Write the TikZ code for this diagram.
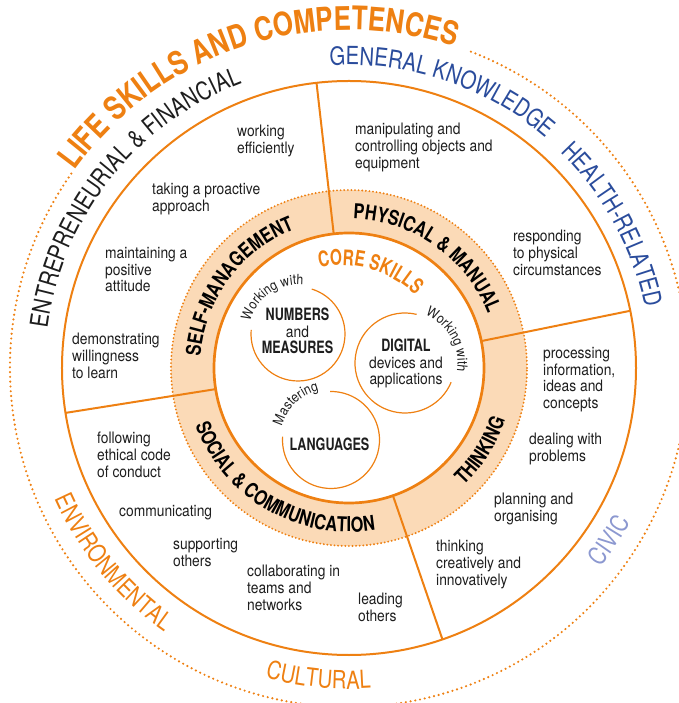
\documentclass[tikz,border=0pt]{standalone}
\usepackage{fontspec}
\setmainfont{TeX Gyre Heros}
\newfontfamily\bodyf{TeX Gyre Heros}[FakeStretch=0.875]
\newfontfamily\bandf{TeX Gyre Heros}[FakeStretch=0.80]
\newfontfamily\innerb{TeX Gyre Heros}[FakeStretch=0.74]
\newfontfamily\coref{TeX Gyre Heros}[FakeStretch=0.72]
\newfontfamily\outerf{TeX Gyre Heros}[FakeStretch=0.81]
\newfontfamily\titlef{TeX Gyre Heros}[FakeStretch=0.80]
\usetikzlibrary{decorations.text}
\definecolor{lsorange}{RGB}{238,128,18}
\definecolor{lsband}{RGB}{251,218,183}
\definecolor{lsblue}{RGB}{42,76,156}
\definecolor{lslav}{RGB}{140,152,208}
\definecolor{lstext}{RGB}{30,30,30}
\newcommand\cwtext[5]{\path[decorate,decoration={text along path,text align=center,#1,text={#5}}] ({#2+#3}:#4) arc[start angle={#2+#3},end angle={#2-#3},radius=#4];}
\newcommand\ccwtext[5]{\path[decorate,decoration={text along path,text align=center,#1,text={#5}}] ({#2-#3}:#4) arc[start angle={#2-#3},end angle={#2+#3},radius=#4];}
\newcommand\bb[1]{{\innerb\bfseries\fontsize{17}{16.5}\selectfont #1}}
\tikzset{
  body/.style={font=\bodyf\fontsize{15.8}{16.7}\selectfont, text=lstext, align=left, anchor=north west, inner sep=0pt},
  innertext/.style={font=\bodyf\fontsize{15.8}{16.5}\selectfont, text=lstext, align=center, anchor=north, inner sep=0pt},
  ringline/.style={draw=lsorange, line width=2pt},
  innerring/.style={draw=lsorange, line width=2.7pt},
  subring/.style={draw=lsorange, line width=1.2pt},
  outerdots/.style={draw=lsorange, line width=2.4pt, line cap=round, dash pattern=on 0pt off 4.8pt},
  banddots/.style={draw=lsorange, line width=2.1pt, line cap=round, dash pattern=on 0pt off 3.6pt}
}
\begin{document}
\begin{tikzpicture}[x=1pt,y=1pt]
\useasboundingbox (-349,-335) rectangle (329,368);
\coordinate (c) at (0,0);
% band
\fill[lsband,even odd rule] (c) circle[radius=178pt] (c) circle[radius=135pt];
% radial dividers
\foreach \a/\n in {96.5/1,11.5/2,-71/3,189/4}{
  \coordinate (r\n a) at (\a:135pt);
  \coordinate (r\n b) at (\a:287pt);
  \draw[ringline] (r\n a) -- (r\n b);
}
\draw[banddots] (c) circle[radius=178pt];
\draw[innerring] (c) circle[radius=135pt];
\draw[ringline] (c) circle[radius=287pt];
\draw[outerdots] (145:339pt) arc[start angle=145,end angle=429,radius=339pt];

% title and outer labels
\cwtext{text color=lsorange}{108}{60}{338pt}{|\titlef\bfseries\fontsize{32.5}{32}\selectfont|LIFE SKILLS AND COMPETENCES}
\cwtext{text color=lstext}{141.6}{40}{304pt}{|\outerf\fontsize{25}{25}\selectfont|ENTREPRENEURIAL {\&} FINANCIAL}
\cwtext{text color=lsblue}{71.5}{30}{303pt}{|\outerf\fontsize{25}{25}\selectfont|GENERAL KNOWLEDGE}
\cwtext{text color=lsblue}{28.5}{25}{302pt}{|\outerf\fontsize{25}{25}\selectfont|HEALTH-RELATED}
\ccwtext{text color=lslav}{-33.5}{15}{321pt}{|\outerf\fontsize{25}{25}\selectfont|CIVIC}
\ccwtext{text color=lsorange}{264.4}{20}{321pt}{|\outerf\fontsize{25}{25}\selectfont|CULTURAL}
\ccwtext{text color=lsorange}{219.5}{25}{322pt}{|\outerf\fontsize{25}{25}\selectfont|ENVIRONMENTAL}

% band labels
\cwtext{text color=black}{143.5}{45}{149pt}{|\bandf\bfseries\fontsize{20.5}{20}\selectfont|SELF-MANAGEMENT}
\cwtext{text color=black}{54.8}{45}{149pt}{|\bandf\bfseries\fontsize{20.5}{20}\selectfont|PHYSICAL {\&} MANUAL}
\ccwtext{text color=black}{239.9}{55}{164pt}{|\bandf\bfseries\fontsize{20.5}{20}\selectfont|SOCIAL {\&} COMMUNICATION}
\ccwtext{text color=black}{-32}{30}{164.5pt}{|\bandf\bfseries\fontsize{20.5}{20}\selectfont|THINKING}

% core skills
\begin{scope}[shift={(-7,-2)}]
\cwtext{text color=lsorange}{74}{45}{104.5pt}{|\coref\bfseries\fontsize{21.5}{21}\selectfont|CORE SKILLS}
\end{scope}

% sub circles
\coordinate (cN) at (-51,34);
\coordinate (cD) at (56,5);
\coordinate (cL) at (-18,-72);
\begin{scope}[shift={(cN)}]
\draw[subring] (175:47pt) arc[start angle=175,end angle=433,radius=47pt];
\cwtext{text color=lstext}{124.5}{60}{49.5pt}{|\bodyf\fontsize{14}{14}\selectfont|Working with}
\end{scope}
\begin{scope}[shift={(cD)}]
\draw[subring] (76.5:50pt) arc[start angle=76.5,end angle=337.4,radius=50pt];
\cwtext{text color=lstext}{29}{55}{52.5pt}{|\bodyf\fontsize{14}{14}\selectfont|Working with}
\end{scope}
\begin{scope}[shift={(cL)}]
\draw[subring] (176:48.5pt) arc[start angle=176,end angle=451,radius=48.5pt];
\cwtext{text color=lstext}{134}{50}{51pt}{|\bodyf\fontsize{14}{14}\selectfont|Mastering}
\end{scope}

\node[innertext] (numbers) at (-51.5,60) {\bb{NUMBERS}\\and\\\bb{MEASURES}};
\node[innertext] (digital) at (57,29) {\bb{DIGITAL}\\devices and\\applications};
\node[innertext] (languages) at (-19.5,-70) {\bb{LANGUAGES}};

% outer ring items
\node[body] (t1) at (-112,243) {working\\efficiently};
\node[body] (t2) at (-197,185) {taking a proactive\\approach};
\node[body] (t3) at (-244,121) {maintaining a\\positive\\attitude};
\node[body] (t4) at (-277,35) {demonstrating\\willingness\\to learn};
\node[body] (t5) at (6,245) {manipulating and\\controlling objects and\\equipment};
\node[body] (t6) at (164,138) {responding\\to physical\\circumstances};
\node[body] (t7) at (194,21) {processing\\information,\\ideas and\\concepts};
\node[body] (t8) at (180,-65) {dealing with\\problems};
\node[body] (t9) at (145,-125) {planning and\\organising};
\node[body] (t10) at (87,-172) {thinking\\creatively and\\innovatively};
\node[body] (t11) at (9,-225) {leading\\others};
\node[body] (t12) at (-252,-64) {following\\ethical code\\of conduct};
\node[body] (t13) at (-230,-137) {communicating};
\node[body] (t14) at (-176,-170) {supporting\\others};
\node[body] (t15) at (-102,-197) {collaborating in\\teams and\\networks};
\end{tikzpicture}
\end{document}
